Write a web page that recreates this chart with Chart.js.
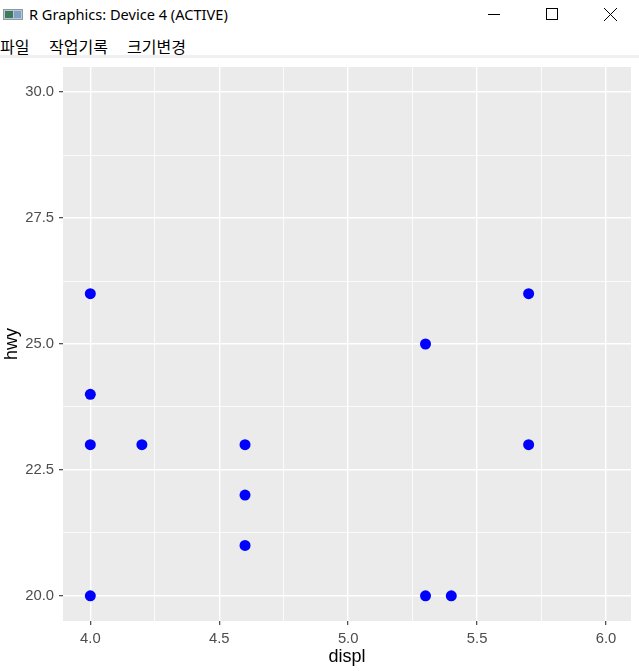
<!DOCTYPE html>
<html>
<head>
<meta charset="utf-8">
<script src="https://cdn.jsdelivr.net/npm/chart.js@4/dist/chart.umd.min.js"></script>
<style>
    html, body { margin: 0; padding: 0; background: #fff; }
    body { width: 639px; height: 671px; position: relative; overflow: hidden; }
    #titlebar { position: absolute; left: 0; top: 0; width: 639px; height: 30px; }
    #title-text { position: absolute; left: 29px; top: 4px; font: 14.6px "Noto Sans", sans-serif; color: #000; white-space: nowrap; }
    #icon { position: absolute; left: 3px; top: 9px; width: 18px; height: 9px; border: 1px solid #8c9aa6; background: #b9c8d4; }
    #icon .g { position: absolute; left: 1px; top: 1px; width: 8px; height: 7px; background: #3f7a5c; }
    #icon .b { position: absolute; left: 10px; top: 1px; width: 7px; height: 7px; background: #7fa2c2; }
    .menu { position: absolute; top: 34px; font: 16px "Noto Sans CJK KR", sans-serif; color: #000; white-space: nowrap; }
    #sep { position: absolute; left: 0; top: 55px; width: 639px; height: 3px; background: #f0f0f0; }
    #wrap { position: absolute; left: 0; top: 58px; width: 639px; height: 613px; }
    svg { position: absolute; top: 0; left: 0; }
</style>
</head>
<body>
<div id="titlebar">
    <div id="icon"><div class="g"></div><div class="b"></div></div>
    <div id="title-text">R Graphics: Device 4 (ACTIVE)</div>
    <svg width="639" height="30">
        <line x1="488" y1="14.5" x2="500" y2="14.5" stroke="#000" stroke-width="1"/>
        <rect x="546.5" y="8.5" width="11" height="11" fill="none" stroke="#000" stroke-width="1"/>
        <line x1="604" y1="8" x2="617" y2="21" stroke="#000" stroke-width="1"/>
        <line x1="617" y1="8" x2="604" y2="21" stroke="#000" stroke-width="1"/>
    </svg>
</div>
<div class="menu" style="left:0px">파일</div>
<div class="menu" style="left:49px">작업기록</div>
<div class="menu" style="left:127px">크기변경</div>
<div id="sep"></div>
<div id="wrap"><canvas id="plot" width="639" height="613"></canvas></div>
<script>
"use strict";
(function () {
    var displ = [4.0, 4.0, 4.0, 4.0, 4.2, 4.6, 4.6, 4.6, 5.3, 5.3, 5.4, 5.7, 5.7];
    var hwy   = [26, 24, 23, 20, 23, 23, 22, 21, 25, 20, 20, 26, 23];

    var xMajor = [4.0, 4.5, 5.0, 5.5, 6.0];
    var xMinor = [4.25, 4.75, 5.25, 5.75];
    var yMajor = [20, 22.5, 25, 27.5, 30];
    var yMinor = [21.25, 23.75, 26.25, 28.75];

    var tickFont = { family: "'Liberation Sans', Arial, sans-serif", size: 14.8 };
    var titleFont = { family: "'Liberation Sans', Arial, sans-serif", size: 18 };

    function allTicks(major, minor) {
        return major.concat(minor).sort(function (a, b) { return a - b; });
    }

    function gridOpts(major) {
        return {
            color: "#FFFFFF",
            lineWidth: function (c) { return major.indexOf(c.tick.value) >= 0 ? 1.4 : 0.8; },
            tickColor: function (c) { return major.indexOf(c.tick.value) >= 0 ? "#333333" : "rgba(0,0,0,0)"; },
            tickWidth: 1.1,
            tickLength: 4,
            drawTicks: true
        };
    }

    var panelBg = {
        id: "panelBg",
        beforeDraw: function (chart) {
            var a = chart.chartArea;
            var ctx = chart.ctx;
            ctx.save();
            ctx.fillStyle = "#EBEBEB";
            ctx.fillRect(a.left, a.top, a.right - a.left, a.bottom - a.top);
            ctx.restore();
        }
    };

    var points = displ.map(function (d, i) { return { x: d, y: hwy[i] }; });

    new Chart(document.getElementById("plot").getContext("2d"), {
        type: "scatter",
        data: {
            datasets: [{
                data: points,
                pointRadius: 5.5,
                pointHoverRadius: 5.5,
                pointBackgroundColor: "#0000FF",
                pointBorderWidth: 0
            }]
        },
        options: {
            responsive: false,
            animation: false,
            devicePixelRatio: 1,
            layout: { padding: { top: 9, right: 8, left: 0, bottom: 0 } },
            plugins: { legend: { display: false }, tooltip: { enabled: false } },
            scales: {
                x: {
                    type: "linear",
                    min: 3.894,
                    max: 6.097,
                    afterBuildTicks: function (axis) {
                        axis.ticks = allTicks(xMajor, xMinor).map(function (v) { return { value: v }; });
                    },
                    afterFit: function (axis) {
                        axis.height = 50;
                        axis.paddingLeft = 0;
                        axis.paddingRight = 0;
                    },
                    grid: gridOpts(xMajor),
                    border: { display: false },
                    ticks: {
                        autoSkip: false,
                        maxRotation: 0,
                        padding: 5.5,
                        color: "#4D4D4D",
                        font: tickFont,
                        callback: function (v) { return xMajor.indexOf(v) >= 0 ? v.toFixed(1) : ""; }
                    },
                    title: { display: true, text: "displ", color: "#000000", font: titleFont, padding: { top: 0, bottom: 3 } }
                },
                y: {
                    type: "linear",
                    min: 19.5,
                    max: 30.5,
                    afterBuildTicks: function (axis) {
                        axis.ticks = allTicks(yMajor, yMinor).map(function (v) { return { value: v }; });
                    },
                    afterFit: function (axis) {
                        axis.width = 63;
                        axis.paddingTop = 0;
                        axis.paddingBottom = 0;
                    },
                    grid: gridOpts(yMajor),
                    border: { display: false },
                    ticks: {
                        autoSkip: false,
                        padding: 5,
                        color: "#4D4D4D",
                        font: tickFont,
                        callback: function (v) { return yMajor.indexOf(v) >= 0 ? v.toFixed(1) : ""; }
                    },
                    title: { display: true, text: "hwy", color: "#000000", font: titleFont, padding: { top: 1, bottom: 0 } }
                }
            }
        },
        plugins: [panelBg]
    });
})();
</script>
</body>
</html>
